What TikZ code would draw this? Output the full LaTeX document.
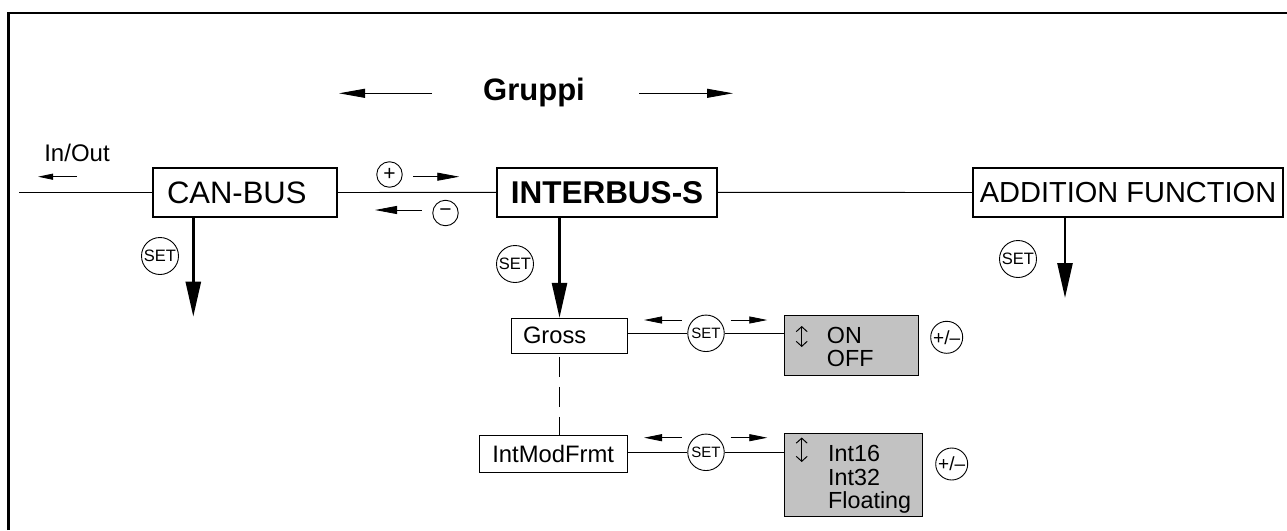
\documentclass[tikz,border=0pt]{standalone}
\usepackage{fontspec}
\setmainfont{Liberation Sans}
\usetikzlibrary{arrows.meta}
\definecolor{valgray}{gray}{0.76}
\newcommand\fsz[1]{\fontsize{#1}{#1}\selectfont}

\begin{document}
\begin{tikzpicture}[x=1pt,y=-1pt,
  box/.style={draw, line width=2pt, inner sep=0pt, minimum height=49pt},
  thinbox/.style={draw, line width=0.9pt, inner sep=0pt},
  valbox/.style={draw, line width=0.9pt, fill=valgray, inner sep=0pt},
  valtext/.style={anchor=base west, inner sep=0pt, font=\fsz{23.3}},
  setkey/.style={circle, draw, line width=0.9pt, inner sep=0pt, minimum size=37pt, font=\fsz{16.5}},
  pmkey/.style={circle, draw, line width=0.9pt, inner sep=0pt, minimum size=32pt, font=\fsz{19}},
  signkey/.style={circle, draw, line width=0.9pt, inner sep=0pt, minimum size=25.5pt, font=\fsz{21}},
  link/.style={line width=0.9pt},
  down/.style={line width=2.6pt, -{Triangle[length=35pt,width=15pt]}},
  bigarrow/.style={line width=0.9pt, -{Triangle[length=26pt,width=9pt]}},
  midarrow/.style={line width=0.8pt, -{Triangle[length=22pt,width=8pt]}},
  smallarrow/.style={line width=0.8pt, -{Triangle[length=18pt,width=7pt]}},
  ioarrow/.style={line width=0.8pt, -{Triangle[length=15pt,width=6pt]}},
  updown/.style={line width=1pt, {Straight Barb[length=5pt,width=11pt]}-{Straight Barb[length=5pt,width=11pt]}}
]
\useasboundingbox (0,0) rectangle (1287,530);

% outer frame (left and top edges)
\draw[line width=2.5pt] (8.7,530) -- (8.7,13) -- (1287,13);

% group header
\node[font=\fsz{31}\bfseries, anchor=base] (gruppi) at (534,100) {Gruppi};
\coordinate (gl0) at (432,93.3);
\coordinate (gl1) at (339,93.3);
\coordinate (gr0) at (639,93.3);
\coordinate (gr1) at (733,93.3);
\draw[bigarrow] (gl0) -- (gl1);
\draw[bigarrow] (gr0) -- (gr1);

% group boxes
\node[box, minimum width=184pt, text width=156pt, align=left, font=\fsz{31}] (can) at (245,192.5) {CAN-BUS};
\node[box, minimum width=220pt, font=\fsz{31.5}\bfseries] (ib) at (607,192.3) {INTERBUS-S};
\node[box, minimum width=310pt, font=\fsz{29}] (add) at (1128,192.5) {ADDITION FUNCTION};

% bus line
\coordinate (busin) at (19,192.5);
\draw[link] (busin) -- (can.west);
\draw[link] (can.east) -- (ib.west);
\draw[link] (ib.east) -- (add.west);

% In/Out
\node[font=\fsz{24}, anchor=base] (io) at (77,161.7) {In/Out};
\coordinate (io0) at (77,176.7);
\coordinate (io1) at (38,176.7);
\draw[ioarrow] (io0) -- (io1);

% plus / minus keys
\node[signkey] (plus) at (389.5,174.5) {+};
\node[signkey] (minus) at (445.5,213) {−};
\coordinate (p0) at (413,176.7);
\coordinate (p1) at (459.3,176.7);
\coordinate (m0) at (421.7,210);
\coordinate (m1) at (375,210);
\draw[midarrow] (p0) -- (p1);
\draw[midarrow] (m0) -- (m1);

% SET keys under group boxes and their drops
\node[setkey] (setcan) at (160,256) {SET};
\node[setkey] (setib) at (515,264) {SET};
\node[setkey] (setadd) at (1018,259) {SET};
\coordinate (candrop) at (193.3,316.7);
\coordinate (adddrop) at (1065,298);
\coordinate (ibdrop) at (559.5,300);
\draw[down] (can.south -| candrop) -- (candrop);
\draw[down] (add.south -| adddrop) -- (adddrop);

% parameter boxes
\node[thinbox, minimum width=115.6pt, minimum height=35pt, text width=93pt, align=left, font=\fsz{23.7}] (gross) at (569.5,335.8) {Gross};
\node[thinbox, minimum width=148.3pt, minimum height=37.3pt, font=\fsz{23.8}] (imf) at (553.2,453.7) {IntModFrmt};
\draw[down] (ib.south -| ibdrop) -- (gross.north -| ibdrop);
\draw[link, dash pattern=on 20pt off 10pt, dash phase=27pt] (gross.south -| ibdrop) -- (imf.north -| ibdrop);

% parameter SET keys
\node[setkey, minimum size=36.5pt, font=\fsz{15}] (s1) at (706,333.3) {SET};
\node[setkey, minimum size=36.5pt, font=\fsz{15}] (s2) at (706,452.3) {SET};

% value boxes
\node[valbox, minimum width=134.3pt, minimum height=59.3pt] (v1) at (851.2,345.4) {};
\node[valbox, minimum width=138.7pt, minimum height=82.7pt] (v2) at (853.4,474.7) {};

\draw[link] (s1.west -| gross.east) -- (s1.west);
\draw[link] (s1.east) -- (s1.east -| v1.west);
\draw[link] (s2.west -| imf.east) -- (s2.west);
\draw[link] (s2.east) -- (s2.east -| v2.west);

% navigation arrows beside parameter SET keys
\coordinate (a1l0) at (681.7,320);
\coordinate (a1l1) at (644,320);
\coordinate (a1r0) at (730.7,320);
\coordinate (a1r1) at (767.3,320);
\coordinate (a2l0) at (681.7,437.7);
\coordinate (a2l1) at (644,437.7);
\coordinate (a2r0) at (730.7,437.7);
\coordinate (a2r1) at (767.3,437.7);
\draw[smallarrow] (a1l0) -- (a1l1);
\draw[smallarrow] (a1r0) -- (a1r1);
\draw[smallarrow] (a2l0) -- (a2l1);
\draw[smallarrow] (a2r0) -- (a2r1);

% value lists
\draw[updown] (801.7,326) -- (801.7,347);
\node[valtext] (on) at (826.7,343.3) {ON};
\node[valtext] (off) at (826.7,366.7) {OFF};
\draw[updown] (801.7,437.5) -- (801.7,462);
\node[valtext] (i16) at (828,461.7) {Int16};
\node[valtext] (i32) at (828,485) {Int32};
\node[valtext] (flt) at (828,508.3) {Floating};

% +/- keys
\node[pmkey] (pm1) at (946.7,337.3) {+/–};
\node[pmkey] (pm2) at (951.7,464) {+/–};
\end{tikzpicture}
\end{document}
